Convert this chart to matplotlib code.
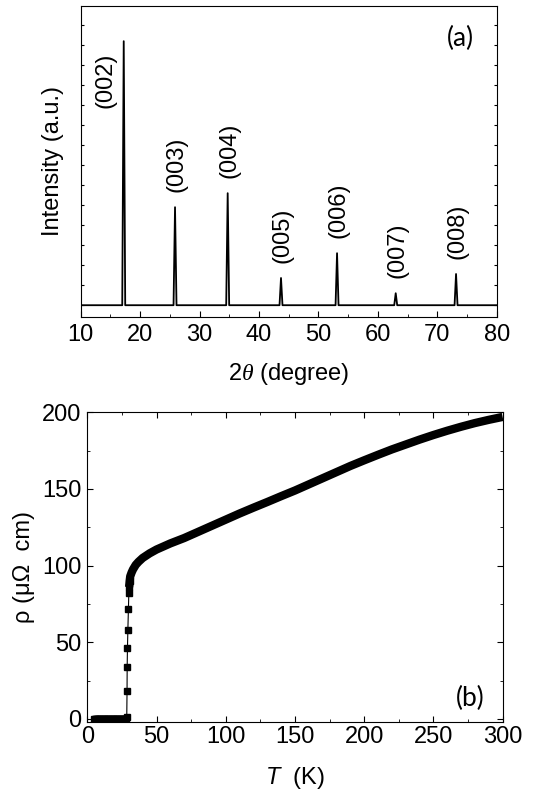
import numpy as np
import matplotlib
matplotlib.use("Agg")
import matplotlib.pyplot as plt
from matplotlib.ticker import MultipleLocator

plt.rcParams['font.family'] = ['Liberation Sans', 'DejaVu Sans']
plt.rcParams['mathtext.fontset'] = 'custom'
plt.rcParams['mathtext.rm'] = 'Liberation Sans'
plt.rcParams['mathtext.it'] = 'Liberation Sans:italic'
plt.rcParams['mathtext.bf'] = 'Liberation Serif:italic'

# (a) XRD peaks
peak_pos = [17.24, 25.87, 34.73, 43.70, 53.13, 63.00, 73.15]
peak_int = [6600, 2450, 2800, 680, 1300, 300, 780]
peak_lbl = ['(002)', '(003)', '(004)', '(005)', '(006)', '(007)', '(008)']

# (b) resistivity
T_low = np.arange(5, 28.5, 0.5)
rho_low = np.zeros_like(T_low)
T_tr = [28.5, 28.7, 28.8, 29.0, 29.3, 29.7, 30.0]
rho_tr = [1.5, 18, 34, 46, 58, 72, 82]
T_high = [30.2, 30.6, 31, 32, 33, 35, 37, 40, 45, 50, 55, 60, 70, 80, 90, 100,
          110, 120, 130, 140, 150, 160, 170, 180, 190, 200, 210, 220, 230, 240,
          250, 260, 270, 280, 290, 300]
rho_high = [86, 90, 93, 95.5, 97.5, 100.5, 102.5, 105, 108, 110.5, 112.5, 114.5,
            118, 122, 126, 130, 134, 137.8, 141.5, 145.3, 149, 153, 157, 161,
            165, 168.7, 172.3, 175.8, 179, 182.2, 185.2, 188, 190.6, 193, 195.1,
            197]

FS = 17
fig = plt.figure(figsize=(5.33, 7.96), dpi=100)
ax1 = fig.add_axes([0.1514, 0.602, 0.7806, 0.3905])
ax2 = fig.add_axes([0.1638, 0.0926, 0.7792, 0.3894])

# build the diffraction profile from the peak list
hw = 0.25
x = [10.0]
y = [0.0]
for p, h in zip(peak_pos, peak_int):
    x += [p - hw, p, p + hw]
    y += [0.0, h, 0.0]
x.append(80.0)
y.append(0.0)
ax1.plot(x, y, color='black', lw=1.3)

for p, h, lab in zip(peak_pos, peak_int, peak_lbl):
    if lab == '(002)':
        off = (-13, -48)
    else:
        off = (1, 11)
    ax1.annotate(lab, xy=(p, h), xytext=off, textcoords='offset points',
                 rotation=90, ha='center', va='bottom', fontsize=FS)

ax1.set_xlim(10, 80)
ax1.set_ylim(-290, 7480)
ax1.xaxis.set_major_locator(MultipleLocator(10))
ax1.xaxis.set_minor_locator(MultipleLocator(5))
ax1.yaxis.set_major_locator(MultipleLocator(500))
ax1.tick_params(axis='x', which='major', direction='in', length=4.5, labelsize=FS, pad=5)
ax1.tick_params(axis='x', which='minor', direction='in', length=2.2)
ax1.tick_params(axis='y', which='major', direction='in', length=2.2,
                left=True, right=True, labelleft=False)
ax1.set_xlabel(r'2$\mathbf{\theta}$ (degree)', fontsize=FS, labelpad=11)
ax1.set_ylabel('Intensity (a.u.)', fontsize=FS, labelpad=12)
ax1.text(0.945, 0.894, '(a)', transform=ax1.transAxes, ha='right', va='center',
         fontsize=19, family=['Lato', 'DejaVu Sans'])

# (b)
T_pts = list(T_low) + T_tr + T_high[:2]
rho_pts = list(rho_low) + rho_tr + rho_high[:2]
ax2.plot(T_pts, rho_pts, color='black', lw=0.8, marker='s', ms=4.8,
         mfc='black', mec='black')
ax2.plot(T_low, rho_low, color='black', lw=4.8, solid_capstyle='butt')
ax2.plot(T_high, rho_high, color='black', lw=6.0, solid_capstyle='butt',
         solid_joinstyle='round')

ax2.set_xlim(0, 300)
ax2.set_ylim(-2.2, 200)
ax2.xaxis.set_major_locator(MultipleLocator(50))
ax2.xaxis.set_minor_locator(MultipleLocator(25))
ax2.yaxis.set_major_locator(MultipleLocator(50))
ax2.yaxis.set_minor_locator(MultipleLocator(25))
ax2.tick_params(which='both', direction='in', top=True, right=True)
ax2.tick_params(which='major', length=4.5, labelsize=FS)
ax2.tick_params(which='minor', length=2.5)
ax2.tick_params(axis='x', pad=3)
ax2.tick_params(axis='y', pad=4)
ax2.set_xlabel(r'$T$  (K)', fontsize=FS, labelpad=12)
ax2.set_ylabel('ρ (μΩ  cm)', fontsize=FS, labelpad=5)
ax2.text(0.957, 0.077, '(b)', transform=ax2.transAxes, ha='right', va='center',
         fontsize=19, family=['Lato', 'DejaVu Sans'])

fig.savefig('out.png', dpi=100)
